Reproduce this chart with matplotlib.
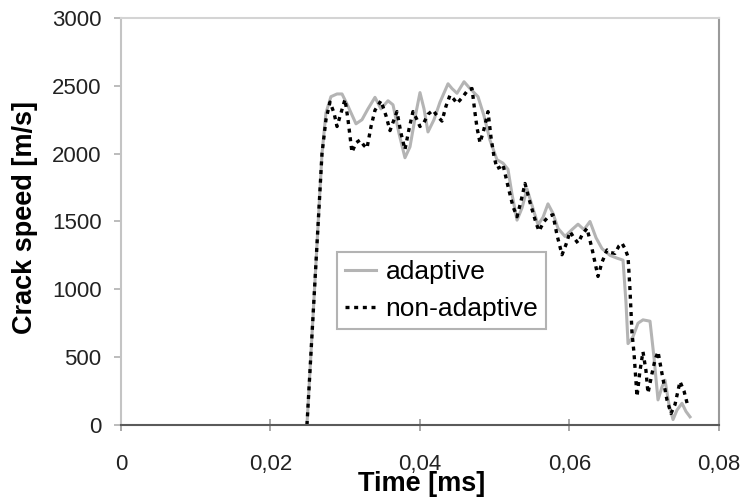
import matplotlib
matplotlib.use("Agg")
import matplotlib.pyplot as plt

# ---- data (time in ms, crack speed in m/s) ----
adaptive_t = [0.02488, 0.02569, 0.02649, 0.02689, 0.02742, 0.02809, 0.02890, 0.02957,
              0.03037, 0.03144, 0.03224, 0.03304, 0.03398, 0.03478, 0.03572, 0.03639,
              0.03719, 0.03799, 0.03866, 0.03946, 0.04000, 0.04054, 0.04107, 0.04187,
              0.04268, 0.04375, 0.04428, 0.04495, 0.04589, 0.04669, 0.04776, 0.04856,
              0.04936, 0.05030, 0.05110, 0.05177, 0.05231, 0.05298, 0.05365, 0.05431,
              0.05498, 0.05579, 0.05645, 0.05712, 0.05779, 0.05846, 0.05940, 0.06033,
              0.06114, 0.06194, 0.06274, 0.06355, 0.06435, 0.06542, 0.06635, 0.06716,
              0.06756, 0.06783, 0.06849, 0.06916, 0.06983, 0.07077, 0.07130, 0.07184,
              0.07237, 0.07278, 0.07331, 0.07385, 0.07438, 0.07505, 0.07558, 0.07612]
adaptive_v = [0, 800, 1600, 2000, 2300, 2420, 2440, 2440,
              2350, 2220, 2250, 2330, 2415, 2330, 2390, 2360,
              2150, 1970, 2050, 2300, 2450, 2330, 2160, 2250,
              2380, 2515, 2480, 2445, 2530, 2480, 2420, 2280,
              2100, 1955, 1930, 1885, 1700, 1510, 1600, 1740,
              1620, 1475, 1530, 1630, 1560, 1450, 1390, 1440,
              1480, 1440, 1500, 1380, 1300, 1250, 1230, 1215,
              900, 600, 650, 750, 775, 765, 500, 185,
              280, 330, 150, 40, 110, 160, 100, 60]

nonadaptive_t = [0.02488, 0.02569, 0.02649, 0.02689, 0.02742, 0.02796, 0.02850, 0.02890,
                 0.02943, 0.02997, 0.03037, 0.03090, 0.03144, 0.03197, 0.03251, 0.03291,
                 0.03345, 0.03398, 0.03478, 0.03545, 0.03599, 0.03652, 0.03692, 0.03746,
                 0.03799, 0.03853, 0.03906, 0.03960, 0.04000, 0.04054, 0.04107, 0.04174,
                 0.04227, 0.04294, 0.04348, 0.04401, 0.04455, 0.04495, 0.04575, 0.04642,
                 0.04696, 0.04736, 0.04763, 0.04803, 0.04856, 0.04910, 0.04950, 0.04990,
                 0.05030, 0.05070, 0.05110, 0.05177, 0.05244, 0.05298, 0.05351, 0.05405,
                 0.05472, 0.05552, 0.05592, 0.05659, 0.05726, 0.05779, 0.05833, 0.05900,
                 0.05953, 0.06007, 0.06060, 0.06114, 0.06167, 0.06234, 0.06301, 0.06381,
                 0.06435, 0.06502, 0.06555, 0.06609, 0.06662, 0.06702, 0.06742, 0.06783,
                 0.06809, 0.06836, 0.06863, 0.06903, 0.06943, 0.06983, 0.07023, 0.07050,
                 0.07104, 0.07144, 0.07184, 0.07237, 0.07304, 0.07358, 0.07411, 0.07478,
                 0.07532, 0.07585]
nonadaptive_v = [0, 800, 1600, 2000, 2250, 2380, 2300, 2200,
                 2300, 2400, 2250, 2010, 2080, 2100, 2060, 2040,
                 2200, 2320, 2390, 2280, 2170, 2250, 2310, 2150,
                 2030, 2180, 2310, 2250, 2200, 2230, 2290, 2320,
                 2280, 2240, 2350, 2430, 2400, 2370, 2420, 2470,
                 2480, 2300, 2190, 2080, 2180, 2310, 2120, 1980,
                 1890, 1900, 1920, 1760, 1610, 1535, 1650, 1780,
                 1640, 1490, 1430, 1500, 1540, 1550, 1400, 1255,
                 1330, 1425, 1380, 1340, 1400, 1450, 1300, 1095,
                 1200, 1290, 1270, 1265, 1320, 1340, 1300, 1240,
                 1000, 680, 530, 210, 400, 540, 400, 235,
                 380, 480, 540, 380, 185, 85, 150, 320,
                 250, 135]

x_ticks = [0, 0.02, 0.04, 0.06, 0.08]
x_tick_labels = ["0", "0,02", "0,04", "0,06", "0,08"]
y_ticks = [0, 500, 1000, 1500, 2000, 2500, 3000]
y_tick_labels = ["0", "500", "1000", "1500", "2000", "2500", "3000"]

plt.rcParams['font.family'] = ['Liberation Sans', 'DejaVu Sans']

fig = plt.figure(figsize=(7.44, 4.98), dpi=100)
ax = fig.add_axes([0.1626, 0.1466, 0.8038, 0.8173])

ax.plot(adaptive_t, adaptive_v, color='#b4b4b4', lw=2.2, label='adaptive',
        solid_joinstyle='round')
ax.plot(nonadaptive_t, nonadaptive_v, color='black', lw=2.4,
        linestyle=(0, (1.2, 1.4)), label='non-adaptive')

ax.set_xlim(0, 0.08)
ax.set_ylim(0, 3000)
ax.set_xticks(x_ticks)
ax.set_xticklabels(x_tick_labels)
ax.set_yticks(y_ticks)
ax.set_yticklabels(y_tick_labels)

ax.spines['left'].set_color('#c4c4c4')
ax.spines['top'].set_color('#d4d4d4')
ax.spines['right'].set_color('#9a9a9a')
ax.spines['bottom'].set_color('#5a5a5a')
for s in ax.spines.values():
    s.set_linewidth(1.5)

ax.tick_params(axis='y', direction='out', length=5, width=1.2, color='#b0b0b0',
               labelsize=16, labelcolor='#222222', pad=9)
ax.tick_params(axis='x', direction='inout', length=8, width=1.2, color='#9a9a9a',
               labelsize=16, labelcolor='#222222', pad=17)

ax.set_xlabel('Time [ms]', fontsize=19.5, fontweight='bold')
ax.set_ylabel('Crack speed [m/s]', fontsize=19.5, fontweight='bold')
ax.xaxis.set_label_coords(0.503, -0.112)
ax.yaxis.set_label_coords(-0.139, 0.51)

leg = ax.legend(loc='upper left', bbox_to_anchor=(0.361, 0.425), borderaxespad=0,
                fontsize=19, frameon=True, fancybox=False, edgecolor='#a0a0a0',
                handlelength=1.2, handletextpad=0.35, labelspacing=0.5,
                borderpad=0.3)
leg.get_frame().set_linewidth(1.5)

fig.savefig('out.png', dpi=100)
